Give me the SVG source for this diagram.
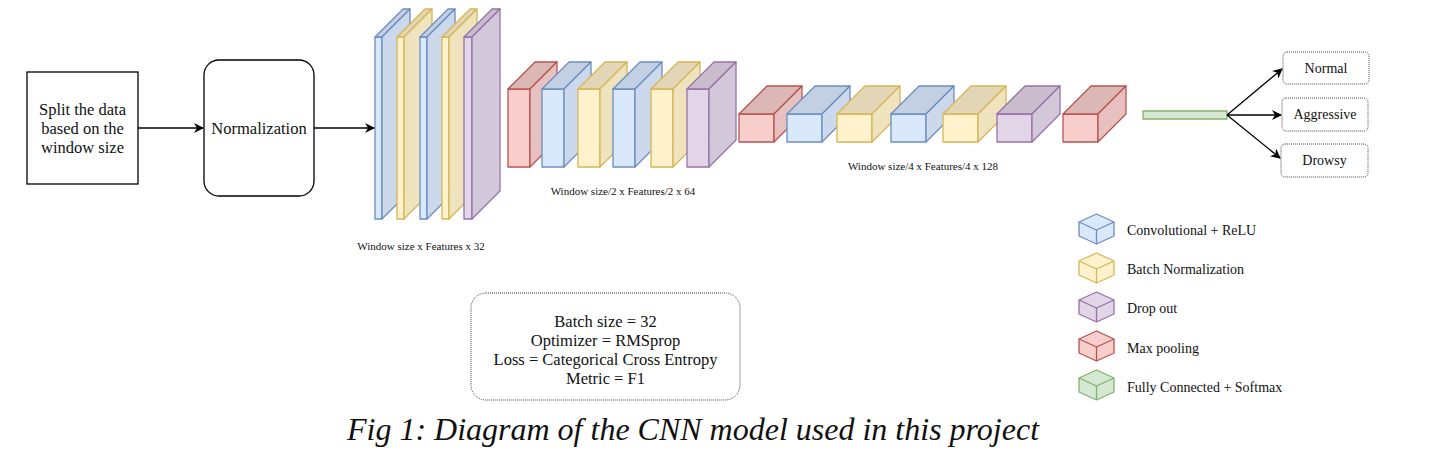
<svg xmlns="http://www.w3.org/2000/svg" width="1450" height="468" viewBox="0 0 1450 468">
<defs>
<style>
text{font-family:"Liberation Serif","Times New Roman",serif;fill:#111}
.t16{font-size:16.5px}
.t14{font-size:14px}
.t11{font-size:11px}
.cap{font-size:32px;font-style:italic}
.box{fill:#fff;stroke:#000;stroke-width:1.3}
.dot{fill:#fff;stroke:#444;stroke-width:1;stroke-dasharray:1 1}
.edge{fill:none;stroke:#000;stroke-width:1.3}
.s{stroke-width:1.3;stroke-linejoin:round}
.bl{stroke:#6c8ebf}.bl.f{fill:#dae8fc}.bl.tp{fill:#c3cfe2}.bl.sd{fill:#ccd9ec}
.ye{stroke:#d6b656}.ye.f{fill:#fff2cc}.ye.tp{fill:#e2d6b6}.ye.sd{fill:#efe3be}
.pu{stroke:#9673a6}.pu.f{fill:#e1d5e7}.pu.tp{fill:#c8bccd}.pu.sd{fill:#d3c8d9}
.re{stroke:#b85450}.re.f{fill:#f8cecc}.re.tp{fill:#dbb7b6}.re.sd{fill:#e6c1c0}
.gr{stroke:#82b366}.gr.f{fill:#d5e8d4}
</style>
<marker id="arr" viewBox="0 0 10 10" refX="9" refY="5" markerWidth="10" markerHeight="10" markerUnits="userSpaceOnUse" orient="auto">
<path d="M0,0 L10,5 L0,10 L3,5 Z" fill="#000"/>
</marker>
</defs>

<g id="split">
<rect class="box" x="27" y="72" width="111" height="112"/>
<text class="t16" x="82.5" y="115" text-anchor="middle">Split the data</text>
<text class="t16" x="82.5" y="134" text-anchor="middle">based on the</text>
<text class="t16" x="82.5" y="153" text-anchor="middle">window size</text>
</g>

<g id="normalization">
<rect class="box" x="204" y="60" width="110" height="136" rx="15" ry="15"/>
<text class="t16" x="259" y="134" text-anchor="middle">Normalization</text>
</g>

<g id="stack1">
<g class="s"><rect class="bl f" x="375" y="37" width="7" height="182"/><polygon class="bl tp" points="375,37 403,9 410,9 382,37"/><polygon class="bl sd" points="382,37 410,9 410,191 382,219"/></g>
<g class="s"><rect class="ye f" x="397" y="37" width="7" height="182"/><polygon class="ye tp" points="397,37 425,9 432,9 404,37"/><polygon class="ye sd" points="404,37 432,9 432,191 404,219"/></g>
<g class="s"><rect class="bl f" x="420" y="37" width="7" height="182"/><polygon class="bl tp" points="420,37 448,9 455,9 427,37"/><polygon class="bl sd" points="427,37 455,9 455,191 427,219"/></g>
<g class="s"><rect class="ye f" x="442" y="37" width="7" height="182"/><polygon class="ye tp" points="442,37 470,9 477,9 449,37"/><polygon class="ye sd" points="449,37 477,9 477,191 449,219"/></g>
<g class="s"><rect class="pu f" x="464" y="37" width="8" height="182"/><polygon class="pu tp" points="464,37 492,9 500,9 472,37"/><polygon class="pu sd" points="472,37 500,9 500,191 472,219"/></g>
<text class="t11" x="421" y="250" text-anchor="middle">Window size x Features x 32</text>
</g>

<g id="stack2">
<g class="s"><rect class="re f" x="508" y="89" width="22" height="78"/><polygon class="re tp" points="508,89 535,62 557,62 530,89"/><polygon class="re sd" points="530,89 557,62 557,140 530,167"/></g>
<g class="s"><rect class="bl f" x="542" y="89" width="22" height="78"/><polygon class="bl tp" points="542,89 569,62 591,62 564,89"/><polygon class="bl sd" points="564,89 591,62 591,140 564,167"/></g>
<g class="s"><rect class="ye f" x="578" y="89" width="22" height="78"/><polygon class="ye tp" points="578,89 605,62 627,62 600,89"/><polygon class="ye sd" points="600,89 627,62 627,140 600,167"/></g>
<g class="s"><rect class="bl f" x="613" y="89" width="22" height="78"/><polygon class="bl tp" points="613,89 640,62 662,62 635,89"/><polygon class="bl sd" points="635,89 662,62 662,140 635,167"/></g>
<g class="s"><rect class="ye f" x="651" y="89" width="22" height="78"/><polygon class="ye tp" points="651,89 678,62 700,62 673,89"/><polygon class="ye sd" points="673,89 700,62 700,140 673,167"/></g>
<g class="s"><rect class="pu f" x="687" y="89" width="22" height="78"/><polygon class="pu tp" points="687,89 714,62 736,62 709,89"/><polygon class="pu sd" points="709,89 736,62 736,140 709,167"/></g>
<text class="t11" x="623" y="195" text-anchor="middle">Window size/2 x Features/2 x 64</text>
</g>

<g id="stack3">
<g class="s"><rect class="re f" x="739" y="114" width="35" height="28"/><polygon class="re tp" points="739,114 767,86 802,86 774,114"/><polygon class="re sd" points="774,114 802,86 802,114 774,142"/></g>
<g class="s"><rect class="bl f" x="787" y="114" width="35" height="28"/><polygon class="bl tp" points="787,114 815,86 850,86 822,114"/><polygon class="bl sd" points="822,114 850,86 850,114 822,142"/></g>
<g class="s"><rect class="ye f" x="837" y="114" width="35" height="28"/><polygon class="ye tp" points="837,114 865,86 900,86 872,114"/><polygon class="ye sd" points="872,114 900,86 900,114 872,142"/></g>
<g class="s"><rect class="bl f" x="891" y="114" width="35" height="28"/><polygon class="bl tp" points="891,114 919,86 954,86 926,114"/><polygon class="bl sd" points="926,114 954,86 954,114 926,142"/></g>
<g class="s"><rect class="ye f" x="943" y="114" width="35" height="28"/><polygon class="ye tp" points="943,114 971,86 1006,86 978,114"/><polygon class="ye sd" points="978,114 1006,86 1006,114 978,142"/></g>
<g class="s"><rect class="pu f" x="997" y="114" width="35" height="28"/><polygon class="pu tp" points="997,114 1025,86 1060,86 1032,114"/><polygon class="pu sd" points="1032,114 1060,86 1060,114 1032,142"/></g>
<g class="s"><rect class="re f" x="1063" y="114" width="35" height="28"/><polygon class="re tp" points="1063,114 1091,86 1126,86 1098,114"/><polygon class="re sd" points="1098,114 1126,86 1126,114 1098,142"/></g>
<text class="t11" x="923" y="170" text-anchor="middle">Window size/4 x Features/4 x 128</text>
</g>

<g id="dense">
<rect class="gr f s" x="1143" y="111" width="84" height="8"/>
</g>

<g id="out-normal">
<rect class="dot" x="1283" y="52" width="86" height="32" rx="4"/>
<text class="t14" x="1326" y="73" text-anchor="middle">Normal</text>
</g>
<g id="out-aggressive">
<rect class="dot" x="1282" y="98" width="86" height="33" rx="4"/>
<text class="t14" x="1325" y="119" text-anchor="middle">Aggressive</text>
</g>
<g id="out-drowsy">
<rect class="dot" x="1281" y="144" width="87" height="33" rx="4"/>
<text class="t14" x="1324.5" y="165" text-anchor="middle">Drowsy</text>
</g>

<g id="connectors">
<line class="edge" x1="138" y1="128" x2="203" y2="128" marker-end="url(#arr)"/>
<line class="edge" x1="314" y1="128" x2="374" y2="128" marker-end="url(#arr)"/>
<line class="edge" x1="1227" y1="115" x2="1282" y2="69" marker-end="url(#arr)"/>
<line class="edge" x1="1227" y1="115" x2="1281" y2="115" marker-end="url(#arr)"/>
<line class="edge" x1="1227" y1="115" x2="1280" y2="158" marker-end="url(#arr)"/>
</g>

<g id="legend">
<g class="s"><polygon class="bl f" points="1079,222 1096.5,214 1114,222 1114,236 1096.5,244 1079,236"/><polyline class="bl" fill="none" points="1079,222 1096.5,230 1114,222"/><line class="bl" x1="1096.5" y1="230" x2="1096.5" y2="244"/></g>
<text class="t14" x="1127" y="235">Convolutional + ReLU</text>
<g class="s"><polygon class="ye f" points="1079,261 1096.5,253 1114,261 1114,275 1096.5,283 1079,275"/><polyline class="ye" fill="none" points="1079,261 1096.5,269 1114,261"/><line class="ye" x1="1096.5" y1="269" x2="1096.5" y2="283"/></g>
<text class="t14" x="1127" y="274">Batch Normalization</text>
<g class="s"><polygon class="pu f" points="1079,300 1096.5,292 1114,300 1114,314 1096.5,322 1079,314"/><polyline class="pu" fill="none" points="1079,300 1096.5,308 1114,300"/><line class="pu" x1="1096.5" y1="308" x2="1096.5" y2="322"/></g>
<text class="t14" x="1127" y="313">Drop out</text>
<g class="s"><polygon class="re f" points="1079,339 1096.5,331 1114,339 1114,353 1096.5,361 1079,353"/><polyline class="re" fill="none" points="1079,339 1096.5,347 1114,339"/><line class="re" x1="1096.5" y1="347" x2="1096.5" y2="361"/></g>
<text class="t14" x="1127" y="353">Max pooling</text>
<g class="s"><polygon class="gr f" points="1079,378 1096.5,370 1114,378 1114,392 1096.5,400 1079,392"/><polyline class="gr" fill="none" points="1079,378 1096.5,386 1114,378"/><line class="gr" x1="1096.5" y1="386" x2="1096.5" y2="400"/></g>
<text class="t14" x="1127" y="392">Fully Connected + Softmax</text>
</g>

<g id="params">
<rect class="dot" x="471" y="293" width="269" height="107" rx="15" ry="15"/>
<text class="t16" x="605.5" y="327" text-anchor="middle">Batch size = 32</text>
<text class="t16" x="605.5" y="346" text-anchor="middle">Optimizer = RMSprop</text>
<text class="t16" x="605.5" y="365" text-anchor="middle">Loss = Categorical Cross Entropy</text>
<text class="t16" x="605.5" y="384" text-anchor="middle">Metric = F1</text>
</g>

<text class="cap" x="693" y="440" text-anchor="middle">Fig 1: Diagram of the CNN model used in this project</text>
</svg>
